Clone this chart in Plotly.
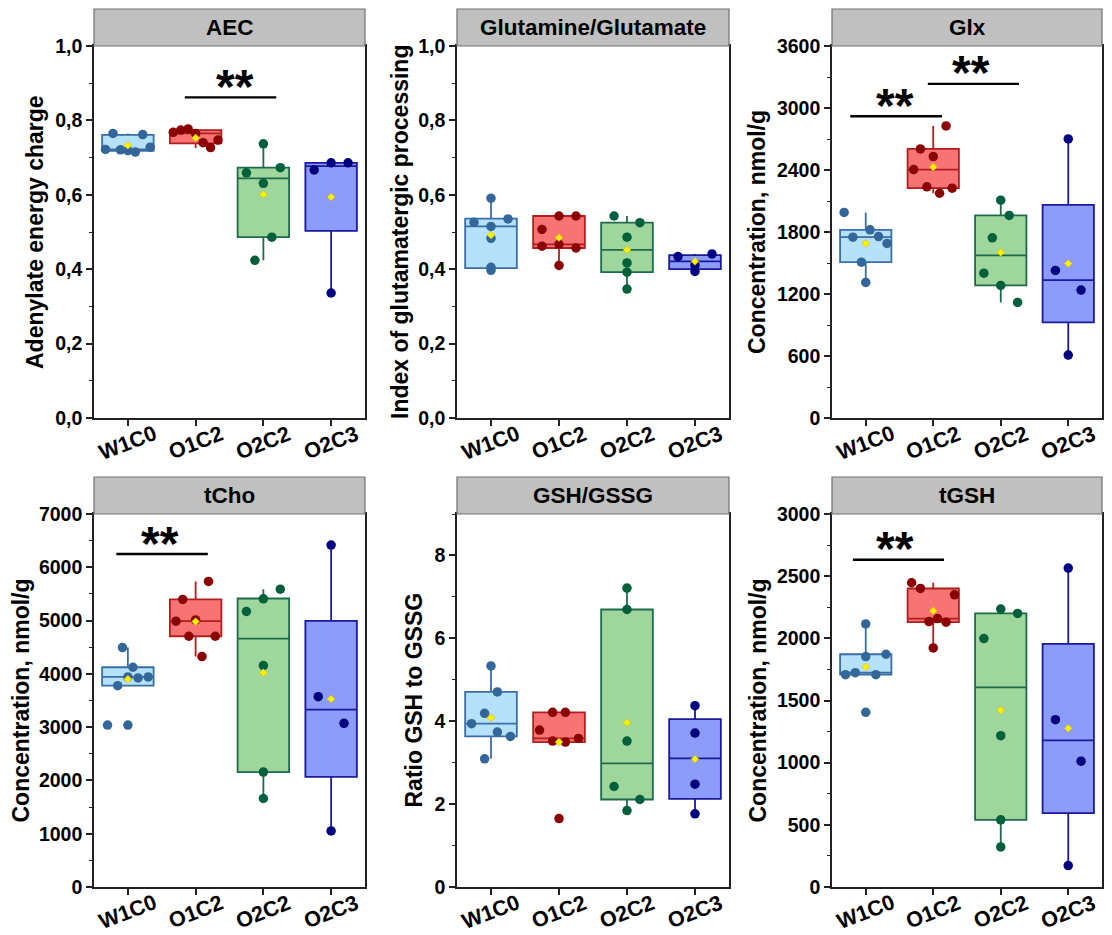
import plotly.graph_objects as go

W, H = 1112, 935

GROUPS = ["W1C0", "O1C2", "O2C2", "O2C3"]
FILL = ["#B5E1FA", "#F87474", "#9ED69B", "#8D9BFA"]
LINE = ["#3A6FA6", "#B01E1E", "#1E6B4C", "#1A1A9C"]
DOT = ["#336699", "#8B0000", "#00603C", "#000080"]
MEAN_COLOR = "#FFF000"

# ---------------- AEC ----------------
AEC_VALUES = [
    [0.722, 0.765, 0.721, 0.719, 0.715, 0.762, 0.728],
    [0.768, 0.774, 0.777, 0.765, 0.740, 0.727, 0.747],
    [0.737, 0.659, 0.673, 0.631, 0.486, 0.424],
    [0.667, 0.686, 0.686, 0.336],
]
AEC_JITTER = [
    [-0.33, -0.22, -0.11, 0, 0.11, 0.22, 0.33],
    [-0.33, -0.22, -0.11, 0, 0.11, 0.22, 0.33],
    [0, -0.25, 0.25, 0, 0.125, -0.125],
    [-0.25, 0, 0.25, 0],
]
AEC_Q1 = [0.718, 0.738, 0.486, 0.503]
AEC_MED = [0.722, 0.765, 0.644, 0.677]
AEC_Q3 = [0.761, 0.774, 0.673, 0.686]
AEC_LO = [0.715, 0.726, 0.424, 0.336]
AEC_HI = [0.765, 0.774, 0.737, 0.686]
AEC_MEAN = [0.733, 0.753, 0.601, 0.594]

# ---------------- Glutamine/Glutamate ----------------
GLN_VALUES = [
    [0.591, 0.526, 0.535, 0.515, 0.483, 0.405, 0.397],
    [0.543, 0.543, 0.507, 0.462, 0.467, 0.457, 0.410],
    [0.543, 0.525, 0.486, 0.417, 0.392, 0.3465],
    [0.434, 0.441, 0.410, 0.394],
]
GLN_JITTER = [
    [0, -0.25, 0.25, 0, 0, 0, 0],
    [0, 0.25, -0.25, -0.25, 0, 0.25, 0],
    [-0.19, 0.19, 0, 0, 0, 0],
    [-0.25, 0.25, 0, 0],
]
GLN_Q1 = [0.403, 0.457, 0.392, 0.400]
GLN_MED = [0.515, 0.467, 0.452, 0.421]
GLN_Q3 = [0.536, 0.543, 0.525, 0.438]
GLN_LO = [0.403, 0.410, 0.3465, 0.400]
GLN_HI = [0.591, 0.543, 0.543, 0.441]
GLN_MEAN = [0.492, 0.485, 0.452, 0.421]

# ---------------- Glx ----------------
GLX_VALUES = [
    [1989, 1312, 1508, 1750, 1821, 1756, 1689],
    [2826, 2604, 2530, 2404, 2237, 2224, 2175],
    [2108, 1960, 1744, 1402, 1283, 1118],
    [2701, 1428, 1238, 609],
]
GLX_JITTER = [
    [-0.32, 0, -0.064, -0.19, 0.064, 0.19, 0.315],
    [0.19, -0.19, 0, -0.29, -0.094, 0.28, 0.094],
    [0, 0.125, -0.125, -0.25, 0, 0.25],
    [0, -0.19, 0.19, 0],
]
GLX_Q1 = [1508, 2224, 1283, 925]
GLX_MED = [1750, 2404, 1573, 1334]
GLX_Q3 = [1821, 2604, 1960, 2063]
GLX_LO = [1312, 2175, 1118, 609]
GLX_HI = [1989, 2826, 2108, 2701]
GLX_MEAN = [1689, 2429, 1602, 1494]

# ---------------- tCho ----------------
TCHO_VALUES = [
    [4493, 4124, 3942, 3923, 3942, 3779, 3039, 3039],
    [5734, 5396, 4988, 5013, 4706, 4706, 4324],
    [5590, 5408, 5170, 4155, 2156, 1661],
    [6417, 3572, 3071, 1053],
]
TCHO_JITTER = [
    [-0.08, 0.075, 0, 0.15, 0.30, -0.15, -0.30, 0],
    [0.19, -0.19, -0.29, 0, -0.10, 0.29, 0.094],
    [0.25, 0, -0.25, 0, 0, 0],
    [0, -0.19, 0.19, 0],
]
TCHO_Q1 = [3779, 4706, 2156, 2068]
TCHO_MED = [3942, 4988, 4662, 3328]
TCHO_Q3 = [4124, 5396, 5414, 4995]
TCHO_LO = [3779, 4324, 1661, 1053]
TCHO_HI = [4493, 5734, 5590, 6417]
TCHO_MEAN = [3900, 4981, 4023, 3528]

# ---------------- GSH/GSSG ----------------
GSR_VALUES = [
    [5.334, 4.706, 4.19, 3.94, 3.739, 3.634, 3.094],
    [4.214, 4.214, 3.787, 3.521, 3.497, 3.586, 1.652],
    [7.212, 6.696, 3.521, 2.425, 2.111, 1.845],
    [4.375, 3.715, 2.482, 1.765],
]
GSR_JITTER = [
    [0, 0.094, -0.094, -0.286, 0.094, 0.286, -0.094],
    [-0.094, 0.094, -0.286, -0.094, 0.094, 0.286, 0],
    [0, 0, 0, -0.19, 0.19, 0],
    [0, 0, 0, 0],
]
GSR_Q1 = [3.634, 3.497, 2.111, 2.127]
GSR_MED = [3.94, 3.586, 2.981, 3.102]
GSR_Q3 = [4.706, 4.214, 6.696, 4.053]
GSR_LO = [3.094, 3.497, 1.845, 1.765]
GSR_HI = [5.334, 4.214, 7.212, 4.375]
GSR_MEAN = [4.085, 3.497, 3.964, 3.086]

# ---------------- tGSH ----------------
TGSH_VALUES = [
    [2116, 1853, 1872, 1708, 1724, 1708, 1405],
    [2447, 2401, 2350, 2135, 2159, 2130, 1923],
    [2235, 2200, 1998, 1217, 540, 322],
    [2565, 1346, 1012, 172],
]
TGSH_JITTER = [
    [0, 0, 0.30, -0.30, -0.155, 0.15, 0],
    [-0.32, -0.19, 0.315, -0.064, 0.064, 0.19, 0],
    [0, 0.25, -0.25, 0, 0, 0],
    [0, -0.19, 0.19, 0],
]
TGSH_Q1 = [1708, 2130, 540, 594]
TGSH_MED = [1724, 2159, 1606, 1179]
TGSH_Q3 = [1872, 2401, 2200, 1955]
TGSH_LO = [1708, 1923, 322, 172]
TGSH_HI = [2116, 2447, 2235, 2565]
TGSH_MEAN = [1770, 2221, 1421, 1276]

# ---------------- axes ----------------
AEC_TICKS = [0, 0.2, 0.4, 0.6, 0.8, 1.0]
AEC_TICKTEXT = ["0,0", "0,2", "0,4", "0,6", "0,8", "1,0"]
GLX_TICKS = [0, 600, 1200, 1800, 2400, 3000, 3600]
TCHO_TICKS = [0, 1000, 2000, 3000, 4000, 5000, 6000, 7000]
GSR_TICKS = [0, 2, 4, 6, 8]
TGSH_TICKS = [0, 500, 1000, 1500, 2000, 2500, 3000]

# significance bars: (panel, x0, x1, y, star x)
SIG = [
    (0, 0.84, 2.19, 0.862, 1.58),
    (2, -0.23, 1.13, 2920, 0.44),
    (2, 0.92, 2.27, 3233, 1.56),
    (3, -0.17, 1.18, 6248, 0.47),
    (5, -0.19, 1.16, 2632, 0.44),
]

PANELS = [
    dict(title="AEC", ytitle="Adenylate energy charge", vals=AEC_VALUES, jit=AEC_JITTER,
         q1=AEC_Q1, med=AEC_MED, q3=AEC_Q3, lo=AEC_LO, hi=AEC_HI, mean=AEC_MEAN,
         rng=[0, 1.0], ticks=AEC_TICKS, ticktext=AEC_TICKTEXT, minor=0.1),
    dict(title="Glutamine/Glutamate", ytitle="Index of glutamatergic processing", vals=GLN_VALUES,
         jit=GLN_JITTER, q1=GLN_Q1, med=GLN_MED, q3=GLN_Q3, lo=GLN_LO, hi=GLN_HI, mean=GLN_MEAN,
         rng=[0, 1.0], ticks=AEC_TICKS, ticktext=AEC_TICKTEXT, minor=0.1),
    dict(title="Glx", ytitle="Concentration, nmol/g", vals=GLX_VALUES, jit=GLX_JITTER,
         q1=GLX_Q1, med=GLX_MED, q3=GLX_Q3, lo=GLX_LO, hi=GLX_HI, mean=GLX_MEAN,
         rng=[0, 3600], ticks=GLX_TICKS, ticktext=[str(t) for t in GLX_TICKS], minor=300),
    dict(title="tCho", ytitle="Concentration, nmol/g", vals=TCHO_VALUES, jit=TCHO_JITTER,
         q1=TCHO_Q1, med=TCHO_MED, q3=TCHO_Q3, lo=TCHO_LO, hi=TCHO_HI, mean=TCHO_MEAN,
         rng=[0, 7000], ticks=TCHO_TICKS, ticktext=[str(t) for t in TCHO_TICKS], minor=500),
    dict(title="GSH/GSSG", ytitle="Ratio GSH to GSSG", vals=GSR_VALUES, jit=GSR_JITTER,
         q1=GSR_Q1, med=GSR_MED, q3=GSR_Q3, lo=GSR_LO, hi=GSR_HI, mean=GSR_MEAN,
         rng=[0, 9], ticks=GSR_TICKS, ticktext=[str(t) for t in GSR_TICKS], minor=1),
    dict(title="tGSH", ytitle="Concentration, nmol/g", vals=TGSH_VALUES, jit=TGSH_JITTER,
         q1=TGSH_Q1, med=TGSH_MED, q3=TGSH_Q3, lo=TGSH_LO, hi=TGSH_HI, mean=TGSH_MEAN,
         rng=[0, 3000], ticks=TGSH_TICKS, ticktext=[str(t) for t in TGSH_TICKS], minor=250),
]

# layout geometry in pixels
COLS_PX = [(94, 365), (457, 729), (832, 1102)]
ROWS_PX = [(46, 418), (514, 887)]
BAR_H = 37
YTITLE_X = [35, 400, 757, 20, 413, 757]

FONT = "Liberation Sans, Arial, sans-serif"

fig = go.Figure()
layout = dict(width=W, height=H, autosize=False,
              margin=dict(l=0, r=0, t=0, b=0, pad=0, autoexpand=False),
              paper_bgcolor="white", plot_bgcolor="white", showlegend=False)
shapes, annotations = [], []

for p, pan in enumerate(PANELS):
    r, c = divmod(p, 3)
    n = p + 1
    xs = "x" if n == 1 else f"x{n}"
    ys = "y" if n == 1 else f"y{n}"
    x0p, x1p = COLS_PX[c]
    y0p, y1p = ROWS_PX[r]
    xd = [x0p / W, x1p / W]
    yd = [1 - y1p / H, 1 - y0p / H]
    ax = dict(domain=xd, range=[-0.5, 3.5], tickvals=[0, 1, 2, 3], showticklabels=False,
              ticks="outside", ticklen=6, tickwidth=1.5, tickcolor="#222",
              showline=True, linecolor="#222", linewidth=1.6, mirror=True,
              showgrid=False, zeroline=False, anchor=ys, fixedrange=True, automargin=False)
    ay = dict(domain=yd, range=pan["rng"], tickvals=pan["ticks"], ticktext=pan["ticktext"],
              ticks="outside", ticklen=6, tickwidth=1.5, tickcolor="#222",
              minor=dict(ticks="outside", ticklen=3, tickwidth=1.2, dtick=pan["minor"],
                         tick0=0, tickcolor="#222", showgrid=False),
              showline=True, linecolor="#222", linewidth=1.6, mirror=True,
              showgrid=False, zeroline=False, anchor=xs, automargin=False,
              tickfont=dict(family=FONT, size=19.5, color="black", weight="bold"))
    layout["xaxis" if n == 1 else f"xaxis{n}"] = ax
    layout["yaxis" if n == 1 else f"yaxis{n}"] = ay

    for g in range(4):
        fig.add_trace(go.Box(
            x=[g], q1=[pan["q1"][g]], median=[pan["med"][g]], q3=[pan["q3"][g]],
            lowerfence=[pan["lo"][g]], upperfence=[pan["hi"][g]],
            width=0.76, whiskerwidth=0, fillcolor=FILL[g],
            line=dict(color=LINE[g], width=1.8), boxpoints=False,
            xaxis=xs, yaxis=ys, hoverinfo="skip"))
    for g in range(4):
        fig.add_trace(go.Scatter(
            x=[g + o for o in pan["jit"][g]], y=pan["vals"][g], mode="markers",
            marker=dict(size=9.5, color=DOT[g]), xaxis=xs, yaxis=ys, hoverinfo="skip"))
    fig.add_trace(go.Scatter(
        x=[0, 1, 2, 3], y=pan["mean"], mode="markers",
        marker=dict(symbol="diamond", size=6, color=MEAN_COLOR, line=dict(width=0.5, color="#C8B400")),
        xaxis=xs, yaxis=ys, hoverinfo="skip"))

    # title bar
    shapes.append(dict(type="rect", xref="paper", yref="paper",
                       x0=xd[0], x1=xd[1], y0=yd[1], y1=1 - (y0p - BAR_H) / H,
                       fillcolor="#C0C0C0", line=dict(color="#707070", width=1.2), layer="above"))
    annotations.append(dict(text=pan["title"], xref="paper", yref="paper",
                            x=(xd[0] + xd[1]) / 2, y=1 - (y0p - BAR_H / 2) / H,
                            xanchor="center", yanchor="middle", showarrow=False,
                            font=dict(family=FONT, size=22.5, color="black", weight="bold")))
    # y axis title
    annotations.append(dict(text=pan["ytitle"], xref="paper", yref="paper",
                            x=YTITLE_X[p] / W, y=1 - (y0p + y1p) / 2 / H, textangle=-90,
                            xanchor="center", yanchor="middle", showarrow=False,
                            font=dict(family=FONT, size=23, color="black", weight="bold")))
    # x tick labels (centered, tilted)
    for g, name in enumerate(GROUPS):
        annotations.append(dict(text=name, xref=xs, yref="paper", x=g, y=1 - (y1p + 25) / H,
                                textangle=-21, xanchor="center", yanchor="middle", showarrow=False,
                                font=dict(family=FONT, size=21.5, color="black", weight="bold")))

for (p, sx0, sx1, sy, stx) in SIG:
    n = p + 1
    xs = "x" if n == 1 else f"x{n}"
    ys = "y" if n == 1 else f"y{n}"
    shapes.append(dict(type="line", xref=xs, yref=ys, x0=sx0, x1=sx1, y0=sy, y1=sy,
                       line=dict(color="black", width=2.4)))
    annotations.append(dict(text="**", xref=xs, yref=ys, x=stx, y=sy,
                            xanchor="center", yanchor="middle", yshift=11, showarrow=False,
                            font=dict(family=FONT, size=48, color="black", weight="bold")))

layout["shapes"] = shapes
layout["annotations"] = annotations
fig.update_layout(**layout)
fig.write_html("out.html")
